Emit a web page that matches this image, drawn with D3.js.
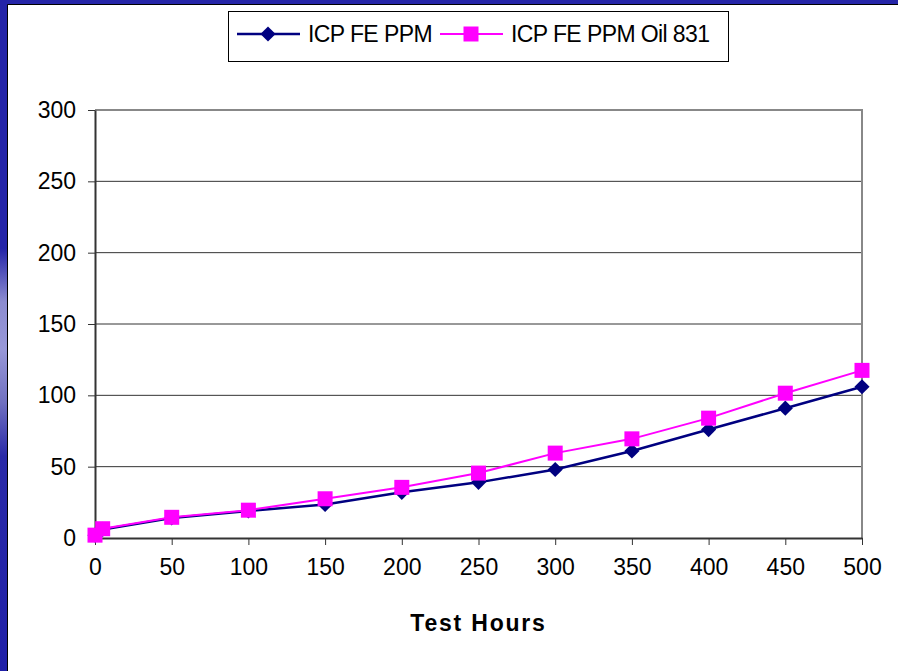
<!DOCTYPE html>
<html>
<head>
<meta charset="utf-8">
<script src="https://cdn.jsdelivr.net/npm/d3@7"></script>
<style>
  body { margin: 0; background: #fff; }
  svg { display: block; font-family: Arial, 'Liberation Sans', sans-serif; }
</style>
</head>
<body>
<script>
// data
const hours = [0, 5, 50, 100, 150, 200, 250, 300, 350, 400, 450, 500]
const icpFe = [2, 6, 14, 19, 23.5, 32, 39, 48, 61, 76, 91, 106]
const icpFeOil831 = [2, 6.5, 14.5, 19.5, 27.5, 35.5, 45.5, 59.5, 69.5, 84, 101.5, 117.5]
const seriesNames = ['ICP FE PPM', 'ICP FE PPM Oil 831']
const xTicks = [0, 50, 100, 150, 200, 250, 300, 350, 400, 450, 500]
const yTicks = [0, 50, 100, 150, 200, 250, 300]

const width = 898
const height = 671
const colors = { blue: '#000080', pink: '#ff00ff', frame: '#2525a8' }

const svg = d3.select('body').append('svg')
  .attr('width', width)
  .attr('height', height)

// slide background / border
const grad = svg.append('defs').append('linearGradient')
  .attr('id', 'leftbar').attr('x1', 0).attr('y1', 0).attr('x2', 0).attr('y2', 1)
;[[0, '#2424a8'], [0.37, '#2424a8'], [0.45, '#8c8cd0'], [0.52, '#9898d8'], [0.6, '#7070c0'], [0.68, '#2a2aa8'], [1, '#2020a8']]
  .forEach(([o, c]) => grad.append('stop').attr('offset', o).attr('stop-color', c))

svg.append('rect').attr('width', width).attr('height', 5).attr('fill', colors.frame)
svg.append('rect').attr('width', 7).attr('height', height).attr('fill', 'url(#leftbar)')
svg.append('path').attr('d', `M7.5,${height}V4.5H${width}`)
  .attr('fill', 'none').attr('stroke', '#000').attr('stroke-width', 1)

const margin = { left: 95, right: 36, top: 110, bottom: 133 }
const x = d3.scaleLinear().domain([0, 500]).range([margin.left, width - margin.right])
const y = d3.scaleLinear().domain([0, 300]).range([height - margin.bottom, margin.top])

// grid
svg.append('g')
  .selectAll('line')
  .data(yTicks.filter(d => d > 0 && d < 300))
  .enter().append('line')
  .attr('x1', x(0)).attr('x2', x(500))
  .attr('y1', d => y(d)).attr('y2', d => y(d))
  .attr('stroke', '#333').attr('stroke-width', 1)

// plot frame top/right
svg.append('path')
  .attr('d', `M${x(0)},${y(300)}H${x(500)}V${y(0)}`)
  .attr('fill', 'none').attr('stroke', '#888').attr('stroke-width', 2)

// axes
const yAxis = d3.axisLeft(y).tickValues(yTicks).tickSize(7).tickPadding(12).tickSizeOuter(0)
const xAxis = d3.axisBottom(x).tickValues(xTicks).tickSize(7).tickPadding(14).tickSizeOuter(0)

const gy = svg.append('g')
  .attr('transform', `translate(${x(0)},0)`)
  .call(yAxis)
const gx = svg.append('g')
  .attr('transform', `translate(0,${y(0)})`)
  .call(xAxis)

;[gx, gy].forEach(g => {
  g.select('.domain').attr('stroke', '#333').attr('stroke-width', 2)
  g.selectAll('.tick line').attr('stroke', '#333').attr('stroke-width', 1)
  g.selectAll('.tick text')
    .attr('fill', '#000')
    .style('font-size', '23px')
    .style('font-family', 'Arial, "Liberation Sans", sans-serif')
})

// axis title
svg.append('text')
  .attr('x', (x(0) + x(500)) / 2)
  .attr('y', 631)
  .attr('text-anchor', 'middle')
  .style('font-size', '23px')
  .style('font-weight', 'bold')
  .style('letter-spacing', '1.8px')
  .text('Test Hours')

// series (diamond = square turned 45deg)
const series = [
  { name: seriesNames[0], values: icpFe, color: colors.blue, shape: d3.symbolSquare, rot: 45, size: 115, lw: 2.5 },
  { name: seriesNames[1], values: icpFeOil831, color: colors.pink, shape: d3.symbolSquare, rot: 0, size: 225, lw: 2 }
]

const line = d3.line().x(d => x(d.h)).y(d => y(d.v))

series.forEach(s => {
  const pts = hours.map((h, i) => ({ h, v: s.values[i] }))
  svg.append('path')
    .attr('d', line(pts))
    .attr('fill', 'none')
    .attr('stroke', s.color)
    .attr('stroke-width', s.lw)
  svg.append('g')
    .selectAll('path')
    .data(pts)
    .enter().append('path')
    .attr('transform', d => `translate(${x(d.h)},${y(d.v)}) rotate(${s.rot})`)
    .attr('d', d3.symbol().type(s.shape).size(s.size))
    .attr('fill', s.color)
})

// legend
const legend = svg.append('g')
legend.append('rect')
  .attr('x', 228.5).attr('y', 11.5).attr('width', 500).attr('height', 50)
  .attr('fill', '#fff').attr('stroke', '#000').attr('stroke-width', 1)

const legendX = [237, 440]
series.forEach((s, i) => {
  const lx = legendX[i]
  const ly = 34
  legend.append('line')
    .attr('x1', lx).attr('x2', lx + 63).attr('y1', ly).attr('y2', ly)
    .attr('stroke', s.color).attr('stroke-width', s.lw)
  legend.append('path')
    .attr('transform', `translate(${lx + 31},${ly}) rotate(${s.rot})`)
    .attr('d', d3.symbol().type(s.shape).size(s.size))
    .attr('fill', s.color)
  legend.append('text')
    .attr('x', lx + 71).attr('y', ly + 8)
    .style('font-size', '23px')
    .style('letter-spacing', '-0.6px')
    .text(s.name)
})
</script>
</body>
</html>
